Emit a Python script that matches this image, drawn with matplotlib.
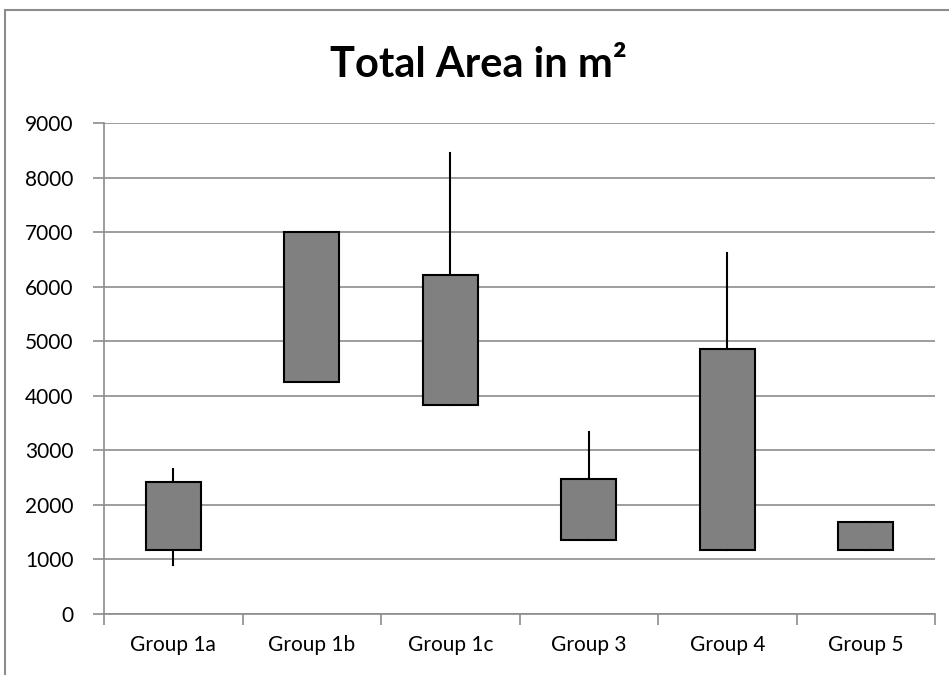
import matplotlib
matplotlib.use("Agg")
import matplotlib.pyplot as plt
from matplotlib.patches import Rectangle
import numpy as np

groups = ["Group 1a", "Group 1b", "Group 1c", "Group 3", "Group 4", "Group 5"]
lows = [890, 4250, 3830, 1358, 1182, 1170]
box_lows = [1164, 4250, 3830, 1358, 1182, 1170]
box_highs = [2413, 7010, 6210, 2467, 4850, 1691]
highs = [2667, 7010, 8450, 3333, 6623, 1691]

plt.rcParams['font.family'] = ['Lato', 'DejaVu Sans']

fig = plt.figure(figsize=(9.49, 6.75), dpi=100)
ax = fig.add_axes([104 / 949, 61 / 675, 831 / 949, 491 / 675])

# chart frame, cut off at right and bottom like the original
fig.patches.append(Rectangle((5 / 949, -0.1), 1.2, (665 - -67.5) / 675,
                             transform=fig.transFigure, fill=False,
                             edgecolor="#8c8c8c", linewidth=1.5))

x = np.arange(len(groups))
w = 0.4
for i in x:
    ax.plot([i, i], [lows[i], highs[i]], color="black", linewidth=1.5, zorder=2)
    ax.add_patch(Rectangle((i - w / 2, box_lows[i]), w, box_highs[i] - box_lows[i],
                           facecolor="#808080", edgecolor="black", linewidth=1.5, zorder=3))

ax.set_xlim(-0.5, len(groups) - 0.5)
ax.set_ylim(0, 9000)
ax.set_yticks(np.arange(0, 9001, 1000))
ax.yaxis.grid(True, color="#8c8c8c", linewidth=1.2)
ax.set_axisbelow(True)

ax.set_xticks(x)
ax.set_xticklabels(groups)
ax.set_xticks(np.arange(-0.5, len(groups), 1), minor=True)
ax.tick_params(axis="x", which="major", length=0, pad=15, labelsize=15)
ax.tick_params(axis="x", which="minor", length=8, color="#8c8c8c", width=1.2)
ax.tick_params(axis="y", length=8, color="#8c8c8c", width=1.2, pad=14, labelsize=15)

for side in ["top", "right"]:
    ax.spines[side].set_visible(False)
for side in ["left", "bottom"]:
    ax.spines[side].set_color("#8c8c8c")
    ax.spines[side].set_linewidth(1.2)

fig.text(478 / 949, 1 - 65 / 675, "Total Area in m²", ha="center", va="center",
         fontsize=30, fontweight="bold")

fig.savefig("out.png", dpi=100)
